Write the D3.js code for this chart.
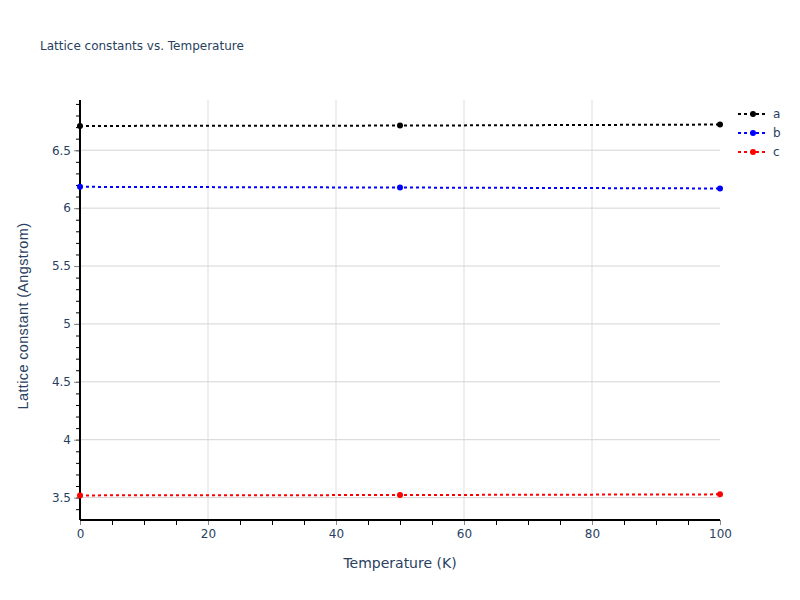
<!DOCTYPE html>
<html lang="en">
<head>
  <meta charset="UTF-8">
  <title>Lattice constants vs. Temperature</title>
  <script src="https://d3js.org/d3.v7.min.js"></script>
  <style>
    body { margin: 0; background: #fff; }
    text { font-family: "DejaVu Sans", verdana, arial, sans-serif; }
  </style>
</head>
<body>
  <svg width="800" height="600"></svg>
  <script>
    // data
    const temperatures = [0, 50, 100];
    const seriesNames = ["a", "b", "c"];
    const seriesColors = ["#000000", "#0000ff", "#ff0000"];
    const aValues = [6.710, 6.713, 6.722];
    const bValues = [6.184, 6.178, 6.170];
    const cValues = [3.519, 3.522, 3.528];
    const xTicks = [0, 20, 40, 60, 80, 100];
    const yTicks = [3.5, 4, 4.5, 5, 5.5, 6, 6.5];

    const svg = d3.select("svg"),
          width = 800,
          height = 600,
          margin = { top: 100, right: 80, bottom: 80, left: 80 };

    const x = d3.scaleLinear()
                .domain([0, 100])
                .range([margin.left, width - margin.right]);

    const y = d3.scaleLinear()
                .domain([3.3065, 6.934])
                .range([height - margin.bottom, margin.top]);

    const tickColor = "#2a3f5f";

    // grid lines
    svg.append("g")
       .selectAll("line")
       .data(xTicks.filter(d => d > 0 && d < 100))
       .enter().append("line")
       .attr("x1", d => x(d)).attr("x2", d => x(d))
       .attr("y1", margin.top).attr("y2", height - margin.bottom)
       .attr("stroke", "#dedede").attr("stroke-width", 1);

    svg.append("g")
       .selectAll("line")
       .data(yTicks)
       .enter().append("line")
       .attr("x1", margin.left).attr("x2", width - margin.right)
       .attr("y1", d => y(d)).attr("y2", d => y(d))
       .attr("stroke", "#d4d4d4").attr("stroke-width", 1);

    // x axis: minor ticks every 5, major every 20
    svg.append("g").attr("transform", `translate(0,${height - margin.bottom})`)
       .call(d3.axisBottom(x).tickValues(d3.range(0, 101, 5)).tickSize(5).tickFormat(""))
       .call(g => g.select(".domain").remove())
       .call(g => g.selectAll(".tick line").attr("stroke", "#000"));
    svg.append("g").attr("transform", `translate(0,${height - margin.bottom})`)
       .call(d3.axisBottom(x).tickValues(xTicks).tickSize(5).tickPadding(4))
       .call(g => g.select(".domain").remove())
       .call(g => g.selectAll(".tick line").attr("stroke", "#8a8a8a"))
       .call(g => g.selectAll(".tick text").attr("fill", tickColor).style("font-size", "12px")
                   .style("font-family", "'DejaVu Sans', verdana, sans-serif"));

    // y axis: minor ticks every 0.1, major every 0.5
    const yMinor = d3.range(34, 70).map(d => d / 10);
    svg.append("g").attr("transform", `translate(${margin.left},0)`)
       .call(d3.axisLeft(y).tickValues(yMinor).tickSize(4).tickFormat(""))
       .call(g => g.select(".domain").remove())
       .call(g => g.selectAll(".tick line").attr("stroke", "#000"));
    svg.append("g").attr("transform", `translate(${margin.left},0)`)
       .call(d3.axisLeft(y).tickValues(yTicks).tickSize(6).tickPadding(3).tickFormat(d3.format("")))
       .call(g => g.select(".domain").remove())
       .call(g => g.selectAll(".tick line").attr("stroke", "#8a8a8a"))
       .call(g => g.selectAll(".tick text").attr("fill", tickColor).style("font-size", "12px")
                   .style("font-family", "'DejaVu Sans', verdana, sans-serif"));

    // axis lines
    svg.append("line")
       .attr("x1", margin.left).attr("x2", width - margin.right)
       .attr("y1", height - margin.bottom).attr("y2", height - margin.bottom)
       .attr("stroke", "#000").attr("stroke-width", 2);
    svg.append("line")
       .attr("x1", margin.left).attr("x2", margin.left)
       .attr("y1", margin.top).attr("y2", height - margin.bottom)
       .attr("stroke", "#000").attr("stroke-width", 2);

    // series
    const series = [aValues, bValues, cValues].map((vals, i) => ({
      name: seriesNames[i],
      color: seriesColors[i],
      points: temperatures.map((t, j) => ({ t: t, v: vals[j] }))
    }));

    const line = d3.line().x(d => x(d.t)).y(d => y(d.v));

    series.forEach(s => {
      svg.append("path")
         .datum(s.points)
         .attr("d", line)
         .attr("fill", "none")
         .attr("stroke", s.color)
         .attr("stroke-width", 2)
         .attr("stroke-dasharray", "3,3");
      svg.selectAll(null)
         .data(s.points)
         .enter().append("circle")
         .attr("cx", d => x(d.t))
         .attr("cy", d => y(d.v))
         .attr("r", 3)
         .attr("fill", s.color);
    });

    // legend
    const legend = svg.append("g").attr("transform", "translate(738,114)");
    series.forEach((s, i) => {
      const g = legend.append("g").attr("transform", `translate(0,${i * 19})`);
      g.append("line")
       .attr("x1", 0).attr("x2", 30).attr("y1", 0).attr("y2", 0)
       .attr("stroke", s.color).attr("stroke-width", 2)
       .attr("stroke-dasharray", "3,3");
      g.append("circle").attr("cx", 15).attr("cy", 0).attr("r", 3).attr("fill", s.color);
      g.append("text")
       .attr("x", 35).attr("y", 4)
       .attr("fill", tickColor)
       .style("font-size", "12px")
       .text(s.name);
    });

    // title and axis labels
    svg.append("text")
       .attr("x", 40).attr("y", 50)
       .attr("fill", tickColor)
       .style("font-size", "12px")
       .text("Lattice constants vs. Temperature");

    svg.append("text")
       .attr("x", (margin.left + width - margin.right) / 2)
       .attr("y", 568)
       .attr("text-anchor", "middle")
       .attr("fill", tickColor)
       .style("font-size", "14px")
       .text("Temperature (K)");

    svg.append("text")
       .attr("transform", "rotate(-90)")
       .attr("x", -316)
       .attr("y", 28)
       .attr("text-anchor", "middle")
       .attr("fill", tickColor)
       .style("font-family", "'Liberation Sans', arial, sans-serif")
       .style("font-size", "14.5px")
       .style("letter-spacing", "0.35px")
       .text("Lattice constant (Angstrom)");
  </script>
</body>
</html>
